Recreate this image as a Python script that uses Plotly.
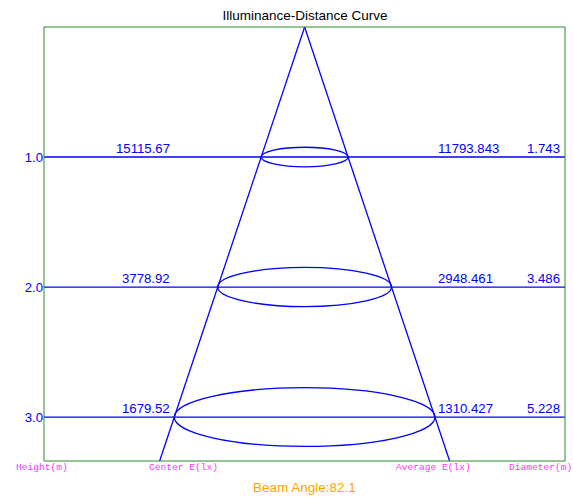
import math

import plotly.graph_objects as go

# data
heights = [1.0, 2.0, 3.0]
height_labels = ["1.0", "2.0", "3.0"]
center_e = ["15115.67", "3778.92", "1679.52"]
average_e = ["11793.843", "2948.461", "1310.427"]
diameters = [1.743, 3.486, 5.228]
beam_angle = 82.1

BLUE = "#0000FF"
GREEN = "#2a8a2a"
MAGENTA = "#ff33ff"
ORANGE = "#FFA500"
VAL_FONT = dict(family="Arial, Liberation Sans", size=13.2, color=BLUE)
LBL_FONT = dict(family="Liberation Mono, DejaVu Sans Mono", size=9.6, color=MAGENTA)

X_RANGE = [-5.225, 5.22]
Y_MAX = 3.338
PX_X = 521 / (X_RANGE[1] - X_RANGE[0])
PX_Y = 434 / Y_MAX

half_tan = math.tan(math.radians(beam_angle / 2))

fig = go.Figure()

# cone edges from apex down to bottom of plot
for side in (-1, 1):
    fig.add_trace(go.Scatter(
        x=[0, side * half_tan * Y_MAX], y=[0, Y_MAX],
        mode="lines", line=dict(color=BLUE, width=1.3),
        hoverinfo="skip", showlegend=False,
    ))

shapes = []
annotations = []
for h, ce, ae, d in zip(heights, center_e, average_e, diameters):
    shapes.append(dict(type="line", xref="paper", yref="y", x0=0, x1=1, y0=h, y1=h,
                       line=dict(color=BLUE, width=1.3), layer="below"))
    ry = 0.225 * (d / 2) * PX_X / PX_Y
    shapes.append(dict(type="circle", xref="x", yref="y", x0=-d / 2, x1=d / 2,
                       y0=h - ry, y1=h + ry, line=dict(color=BLUE, width=1.3)))
    annotations.append(dict(x=-2.66, y=h, xref="x", yref="y", text=ce, showarrow=False,
                            xanchor="right", yanchor="bottom", font=VAL_FONT, yshift=-1))
    annotations.append(dict(x=2.64, y=h, xref="x", yref="y", text=ae, showarrow=False,
                            xanchor="left", yanchor="bottom", font=VAL_FONT, yshift=-1))
    annotations.append(dict(x=4.41, y=h, xref="x", yref="y", text=f"{d:.3f}", showarrow=False,
                            xanchor="left", yanchor="bottom", font=VAL_FONT, yshift=-1))

# plot border
shapes.append(dict(type="rect", xref="paper", yref="paper", x0=0, x1=1, y0=0, y1=1,
                   line=dict(color=GREEN, width=1)))

bottom_labels = [("Height(m)", 14), ("Center E(lx)", 147), ("Average E(lx)", 394), ("Diameter(m)", 507)]
for txt, px in bottom_labels:
    annotations.append(dict(x=(px - 44) / 521, y=(461 - 467.5) / 434, xref="paper", yref="paper",
                            text=txt, showarrow=False, xanchor="left", yanchor="middle",
                            font=LBL_FONT))

annotations.append(dict(x=(304 - 44) / 521, y=(461 - 487) / 434, xref="paper", yref="paper",
                        text=f"Beam Angle:{beam_angle}", showarrow=False, xanchor="center",
                        yanchor="middle", font=dict(family="Arial, Liberation Sans", size=13.5, color=ORANGE)))

fig.update_layout(
    width=573, height=499,
    margin=dict(l=44, r=8, t=27, b=38),
    title=dict(text="Illuminance-Distance Curve", x=305 / 573, xanchor="center",
               y=1 - 15.5 / 499, yanchor="middle",
               font=dict(family="Arial, Liberation Sans", size=13.5, color="black")),
    plot_bgcolor="white", paper_bgcolor="white",
    xaxis=dict(range=X_RANGE, visible=False, showgrid=False, zeroline=False, fixedrange=True),
    yaxis=dict(range=[Y_MAX, 0], showgrid=False, zeroline=False, showline=False,
               tickvals=heights, ticktext=height_labels, ticks="",
               tickfont=VAL_FONT, fixedrange=True),
    shapes=shapes, annotations=annotations,
    showlegend=False,
)

# drop the default page margin so the figure sits at the window's top-left corner
fig.write_html("out.html", config={"displayModeBar": False},
               post_script="document.body.style.margin='0';document.body.style.overflow='hidden';")
